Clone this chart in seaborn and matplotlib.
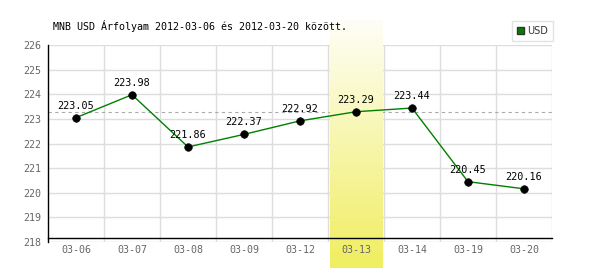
import numpy as np
import pandas as pd
import matplotlib
matplotlib.use("Agg")
import matplotlib.pyplot as plt
import seaborn as sns
from matplotlib.patches import Patch

dates = ["03-06", "03-07", "03-08", "03-09", "03-12", "03-13", "03-14", "03-19", "03-20"]
rates = [223.05, 223.98, 221.86, 222.37, 222.92, 223.29, 223.44, 220.45, 220.16]
highlight = "03-13"
ref_value = 223.29
title = "MNB USD Árfolyam 2012-03-06 és 2012-03-20 között."
series_name = "USD"

sns.set_theme(style="white")
plt.rcParams['font.family'] = ['DejaVu Sans Mono', 'DejaVu Sans']

df = pd.DataFrame({"idx": np.arange(len(dates)), "date": dates, "rate": rates})

fig = plt.figure(figsize=(6, 2.7), dpi=100)
ax = fig.add_axes([48/600, 1-242/270, 504/600, 197/270])

# highlight gradient column (covers grid and dashed line)
hi = dates.index(highlight)
grad = np.linspace(0, 1, 256).reshape(-1, 1)
cmap = matplotlib.colors.LinearSegmentedColormap.from_list("yl", ["#fefef8", "#f0ee60"])
ax.imshow(grad, extent=[hi-0.47, hi+0.47, 216.94, 227.0], origin="upper", cmap=cmap,
          aspect="auto", clip_on=False, zorder=1.5)

ax.set_xlim(-0.5, len(dates)-0.5)
ax.set_ylim(218, 226)

# grid
for y in range(218, 227):
    ax.axhline(y, color="#dddddd", lw=1, zorder=0.5)
for x in np.arange(0.5, len(dates), 1):
    ax.axvline(x, color="#dddddd", lw=1, zorder=0.5)

ax.axhline(ref_value, color="#aaaaaa", lw=0.8, ls=(0, (3, 3)), zorder=1)

sns.lineplot(data=df, x="idx", y="rate", color="#008000", lw=1, ax=ax, zorder=2, legend=False)
sns.scatterplot(data=df, x="idx", y="rate", color="black", s=30, ax=ax, zorder=3, legend=False,
                edgecolor="black")

for i, v in enumerate(rates):
    ax.annotate(f"{v:.2f}", (i, v), xytext=(0, 5), textcoords="offset points",
                ha="center", va="bottom", fontsize=7.3, color="black", zorder=4)

ax.set_xticks(range(len(dates)))
ax.set_xticklabels(dates)
ax.set_yticks(range(218, 227))
ax.tick_params(axis="both", length=0, labelsize=7.2, labelcolor="#666666", pad=5)
ax.set_xlabel("")
ax.set_ylabel("")
ax.xaxis.set_zorder(5)
ax.yaxis.set_zorder(5)
for s in ["top", "right"]:
    ax.spines[s].set_visible(False)
ax.spines["left"].set_color("black")
ax.spines["bottom"].set_color("black")
ax.spines["left"].set_linewidth(1)
ax.spines["bottom"].set_linewidth(1)
ax.spines["bottom"].set_position(("data", 218.16))
ax.spines["left"].set_zorder(5)
ax.spines["bottom"].set_zorder(5)

fig.text(53/600, 1-26/270, title, fontsize=7.2, ha="left", va="center", color="black")

leg = fig.legend(handles=[Patch(facecolor="#008000", edgecolor="#333333", label=series_name)],
                 loc="upper right", bbox_to_anchor=(553/600, 1-21/270), fontsize=7,
                 frameon=True, fancybox=False, handlelength=0.8, handleheight=0.8,
                 handletextpad=0.3, borderpad=0.5, borderaxespad=0)
leg.get_frame().set_edgecolor("#dddddd")
leg.get_frame().set_linewidth(1)
for t in leg.get_texts():
    t.set_family(["DejaVu Sans", "DejaVu Sans Mono"])
    t.set_color("#333333")

fig.savefig("out.png", dpi=100)
